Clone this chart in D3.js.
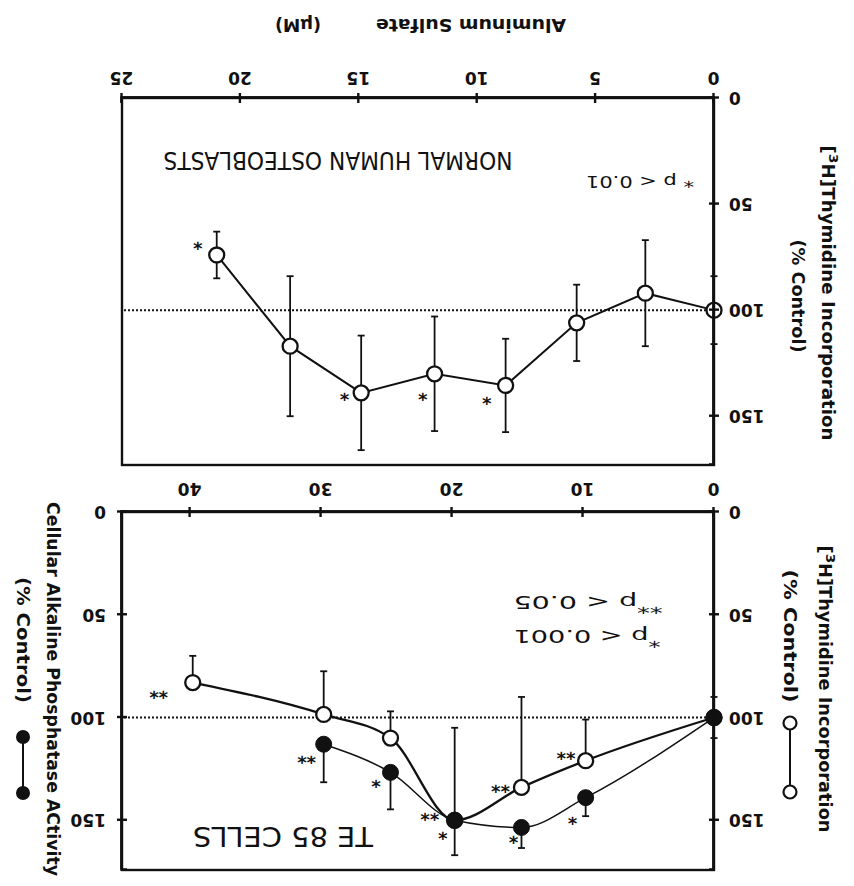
<!DOCTYPE html>
<html>
<head>
<meta charset="utf-8">
<script src="https://cdn.jsdelivr.net/npm/d3@7"></script>
<style>
body { margin: 0; background: #fff; }
svg { display: block; }
text { font-family: "DejaVu Sans", sans-serif; fill: #111; }
</style>
</head>
<body>
<script>
const width = 854;
const height = 886;

// TE 85 cells: thymidine (open) and alkaline phosphatase (filled)
const teDose = [0, 9.8, 14.7, 19.8, 24.7, 29.8, 39.8];
const teThy = [100, 121, 134, 150, 110, 98.5, 83];
const teThyErr = [10, 20, 44, 45, 13, 21, 13];
const alpDose = [0, 9.8, 14.7, 19.8, 24.7, 29.8];
const alpVal = [100, 139, 153.5, 150, 126.7, 113];
const alpErr = [10, 9, 10, 17, 18, 18.5];

// normal human osteoblasts: thymidine
const nhDose = [0, 2.9, 5.8, 8.8, 11.8, 14.9, 17.9, 21.0];
const nhThy = [100, 92, 106, 135.5, 130, 139, 117, 74];
const nhErr = [16, 25, 18, 22, 27, 27, 33, 11];

const yTicks = [0, 50, 100, 150];
const teXTicks = [0, 10, 20, 30, 40];
const nhXTicks = [0, 5, 10, 15, 20, 25];

// significance marks: [dose, value, label]
const teStars = [[42.4, 89.5, "**"], [31.1, 121, "**"], [25.8, 133, "*"], [21.7, 149, "**"],
	[20.7, 158, "*"], [16.3, 135, "**"], [15.3, 160, "*"], [11.3, 119, "**"], [10.8, 151, "*"]];
const nhStars = [[21.8, 70, "*"], [15.6, 141.5, "*"], [12.3, 141.5, "*"], [9.6, 143.4, "*"]];

const ink = "#111";

const svg = d3.select("body")
	.append("svg")
	.attr("width", width)
	.attr("height", height);

svg.append("rect").attr("width", width).attr("height", height).attr("fill", "#fff");

// the page is printed upside down, so draw it upright and turn it over
const g = svg.append("g")
	.attr("transform", "rotate(180," + width / 2 + "," + height / 2 + ")");

// panels
const teBox = {x0: 140, x1: 732, y0: 16, y1: 374};
const nhBox = {x0: 140, x1: 732, y0: 421, y1: 788};

const teX = d3.scaleLinear().domain([0, 45.2]).range([teBox.x0, teBox.x1]);
const teY = d3.scaleLinear().domain([0, 174.2]).range([teBox.y1, teBox.y0]);
const nhX = d3.scaleLinear().domain([0, 25]).range([nhBox.x0, nhBox.x1]);
const nhY = d3.scaleLinear().domain([0, 173]).range([nhBox.y1, nhBox.y0]);

function refLine(x, y, box) {
	g.append("line")
		.attr("x1", box.x0).attr("x2", box.x1)
		.attr("y1", y(100)).attr("y2", y(100))
		.attr("stroke", ink)
		.attr("stroke-width", 2)
		.attr("stroke-dasharray", "2,2");
}

function errBars(data, x, y, sides) {
	const bars = g.append("g").attr("stroke", ink).attr("stroke-width", 1.8);
	data.forEach((d) => {
		const ends = [];
		if (sides.includes("lo")) ends.push(d[1] - d[2]);
		if (sides.includes("hi")) ends.push(d[1] + d[2]);
		ends.forEach((e) => {
			bars.append("line")
				.attr("x1", x(d[0])).attr("x2", x(d[0]))
				.attr("y1", y(d[1])).attr("y2", y(e));
			bars.append("line")
				.attr("x1", x(d[0]) - 3.5).attr("x2", x(d[0]) + 3.5)
				.attr("y1", y(e)).attr("y2", y(e));
		});
	});
}

function series(data, x, y, curve, filled, lw) {
	const line = d3.line()
		.x((d) => x(d[0]))
		.y((d) => y(d[1]))
		.curve(curve);
	g.append("path")
		.datum(data)
		.attr("d", line)
		.attr("fill", "none")
		.attr("stroke", ink)
		.attr("stroke-width", lw);
	g.append("g")
		.selectAll("circle")
		.data(data)
		.enter()
		.append("circle")
		.attr("cx", (d) => x(d[0]))
		.attr("cy", (d) => y(d[1]))
		.attr("r", filled ? 8 : 7.5)
		.attr("fill", filled ? ink : "#fff")
		.attr("stroke", ink)
		.attr("stroke-width", filled ? 1 : 2.3);
}

function styleAxis(sel) {
	sel.attr("font-size", 17)
		.attr("font-weight", "bold")
		.attr("font-family", "DejaVu Sans, sans-serif")
		.attr("color", ink);
	sel.selectAll("line, path").attr("stroke-width", 2.4);
}

function axes(box, x, y, xTicks, xPad, rightAxis) {
	g.append("rect")
		.attr("x", box.x0).attr("y", box.y0)
		.attr("width", box.x1 - box.x0).attr("height", box.y1 - box.y0)
		.attr("fill", "none")
		.attr("stroke", ink)
		.attr("stroke-width", 2.4);

	const gx = g.append("g")
		.attr("transform", "translate(0," + box.y1 + ")")
		.call(d3.axisBottom(x).tickValues(xTicks).tickSize(5).tickSizeOuter(0).tickPadding(xPad));
	styleAxis(gx);
	const gxIn = g.append("g")
		.attr("transform", "translate(0," + box.y1 + ")")
		.call(d3.axisBottom(x).tickValues(xTicks).tickSize(-5).tickFormat(() => ""));
	styleAxis(gxIn);

	const gy = g.append("g")
		.attr("transform", "translate(" + box.x0 + ",0)")
		.call(d3.axisLeft(y).tickValues(yTicks).tickSize(5).tickSizeOuter(0).tickPadding(10));
	styleAxis(gy);
	const gyIn = g.append("g")
		.attr("transform", "translate(" + box.x0 + ",0)")
		.call(d3.axisLeft(y).tickValues(yTicks).tickSize(-5).tickFormat(() => ""));
	styleAxis(gyIn);

	if (rightAxis) {
		const gr = g.append("g")
			.attr("transform", "translate(" + box.x1 + ",0)")
			.call(d3.axisRight(y).tickValues(yTicks).tickSize(5).tickSizeOuter(0).tickPadding(11));
		styleAxis(gr);
		const grIn = g.append("g")
			.attr("transform", "translate(" + box.x1 + ",0)")
			.call(d3.axisRight(y).tickValues(yTicks).tickSize(-5).tickFormat(() => ""));
		styleAxis(grIn);
	}
}

function stars(list, x, y) {
	g.append("g")
		.selectAll("text")
		.data(list)
		.enter()
		.append("text")
		.attr("x", (d) => x(d[0]))
		.attr("y", (d) => y(d[1]))
		.attr("dy", "0.55em")
		.attr("text-anchor", "middle")
		.attr("font-size", 18)
		.attr("font-weight", "bold")
		.text((d) => d[2]);
}

function label(txt, cx, cy, size, len, vertical, weight) {
	const t = g.append("text")
		.attr("transform", "translate(" + cx + "," + cy + ")" + (vertical ? " rotate(-90)" : ""))
		.attr("text-anchor", "middle")
		.attr("dominant-baseline", "central")
		.attr("font-size", size)
		.attr("font-weight", weight || "normal")
		.attr("textLength", len)
		.attr("lengthAdjust", "spacingAndGlyphs");
	txt.forEach((part) => {
		t.append("tspan")
			.attr("dy", part[1] || 0)
			.attr("font-size", part[2] || null)
			.text(part[0]);
	});
	return t;
}

// ---- TE 85 cells ----
refLine(teX, teY, teBox);
errBars(d3.zip(teDose, teThy, teThyErr), teX, teY, ["lo"]);
errBars(d3.zip(alpDose, alpVal, alpErr), teX, teY, ["hi"]);
series(d3.zip(teDose, teThy), teX, teY, d3.curveMonotoneX, false, 2.3);
series(d3.zip(alpDose, alpVal), teX, teY, d3.curveMonotoneX, true, 1.5);
axes(teBox, teX, teY, teXTicks, 12, true);
stars(teStars, teX, teY);

label([["TE 85 CELLS"]], 571, 49, 27, 180, false);
label([["*", "-5", 16], ["p < 0.001", "5"]], 267, 249, 18, 147, false);
label([["**", "-5", 16], ["p < 0.05", "5"]], 266, 283, 18, 149, false);

label([["["], ["3", "-6", 13], ["H]Thymidine Incorporation", "6"]], 29, 197, 17, 287, true, "bold");
label([["(% Control)"]], 64, 250, 17, 133, true, "bold");
label([["Cellular Alkaline Phosphatase ACtivity"]], 801, 197, 17, 374, true, "bold");
label([["(% Control)"]], 831, 246, 17, 126, true, "bold");

// legend marks next to the axis titles
const legendOpen = [[64, 163], [64, 94]];
const legendFilled = [[831, 149], [831, 93]];
g.append("line")
	.attr("x1", legendOpen[0][0]).attr("x2", legendOpen[1][0])
	.attr("y1", legendOpen[0][1]).attr("y2", legendOpen[1][1])
	.attr("stroke", ink).attr("stroke-width", 2);
g.selectAll(".lego")
	.data(legendOpen)
	.enter()
	.append("circle")
	.attr("cx", (d) => d[0]).attr("cy", (d) => d[1])
	.attr("r", 6.5).attr("fill", "#fff").attr("stroke", ink).attr("stroke-width", 2.2);
g.append("line")
	.attr("x1", legendFilled[0][0]).attr("x2", legendFilled[1][0])
	.attr("y1", legendFilled[0][1]).attr("y2", legendFilled[1][1])
	.attr("stroke", ink).attr("stroke-width", 2);
g.selectAll(".legf")
	.data(legendFilled)
	.enter()
	.append("circle")
	.attr("cx", (d) => d[0]).attr("cy", (d) => d[1])
	.attr("r", 7).attr("fill", ink);

// ---- normal human osteoblasts ----
refLine(nhX, nhY, nhBox);
errBars(d3.zip(nhDose, nhThy, nhErr), nhX, nhY, ["lo", "hi"]);
series(d3.zip(nhDose, nhThy), nhX, nhY, d3.curveLinear, false, 2);
axes(nhBox, nhX, nhY, nhXTicks, 9, false);
stars(nhStars, nhX, nhY);

label([["NORMAL HUMAN OSTEOBLASTS"]], 516, 726, 24, 349, false);
label([["* p < 0.01"]], 214, 704, 16, 108, false);
label([["Aluminum Sulfate"]], 383, 861, 17, 190, false, "bold");
label([["(μM)"]], 556, 861, 17, 46, false, "bold");
label([["["], ["3", "-6", 13], ["H]Thymidine Incorporation", "6"]], 26, 593, 17, 295, true, "bold");
label([["(% Control)"]], 56, 590, 17, 113, true, "bold");
</script>
</body>
</html>
